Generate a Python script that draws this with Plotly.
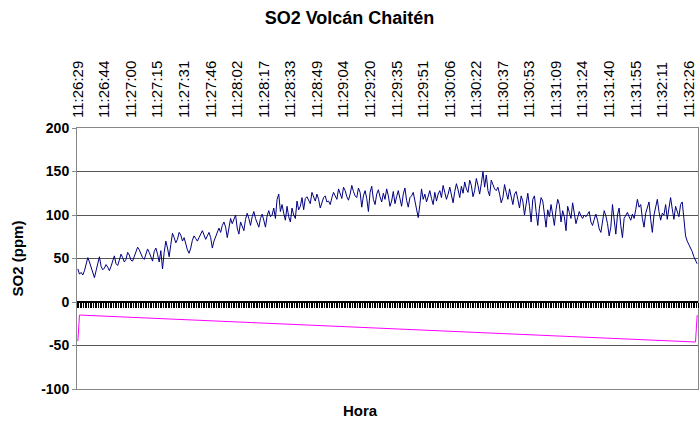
import plotly.graph_objects as go

# Tick labels (every 16th category)
time_labels = ["11:26:29", "11:26:44", "11:27:00", "11:27:15", "11:27:31", "11:27:46",
               "11:28:02", "11:28:17", "11:28:33", "11:28:49", "11:29:04", "11:29:20",
               "11:29:35", "11:29:51", "11:30:06", "11:30:22", "11:30:37", "11:30:53",
               "11:31:09", "11:31:24", "11:31:40", "11:31:55", "11:32:11", "11:32:26"]
label_step = 16

# SO2 readings (ppm), one per category
so2 = [
    38, 32, 34, 31, 36, 44, 51, 46, 40, 33, 28, 36, 45, 52, 41, 37,
    39, 43, 40, 36, 41, 47, 53, 44, 42, 48, 55, 51, 46, 49, 57, 54, 48,
    47, 52, 58, 63, 60, 55, 51, 49, 56, 61, 57, 53, 47, 58, 62, 55, 46,
    59, 38, 57, 70, 62, 52, 66, 79, 74, 68, 72, 80, 77, 70, 74, 66, 60,
    56, 62, 71, 76, 73, 70, 74, 79, 82, 77, 72, 76, 80, 74, 62, 70, 75,
    78, 85, 80, 88, 92, 86, 74, 84, 96, 90, 94, 100, 85, 78, 92, 88,
    82, 95, 102, 96, 88, 98, 104, 96, 92, 86, 96, 101, 94, 86, 99, 105, 98,
    100, 108, 96, 118, 124, 104, 112, 102, 94, 110, 98, 92, 108, 100, 96, 116, 106,
    110, 120, 106, 119, 121, 117, 113, 126, 120, 116, 124, 118, 108, 114, 120, 122, 115,
    116, 112, 120, 126, 122, 118, 130, 124, 119, 132, 128, 121, 117, 124, 134, 127, 122,
    120, 131, 126, 109, 122, 128, 119, 104, 126, 133, 118, 112, 124, 129, 121, 115,
    125, 118, 130, 122, 110, 116, 127, 113, 121, 128, 119, 110, 124, 131, 117, 109, 120,
    122, 126, 115, 104, 97, 112, 130, 118, 124, 115, 121, 128, 119, 112, 126, 116, 124,
    128, 120, 134, 126, 118, 124, 132, 123, 114, 127, 136, 129, 120, 133, 125, 138, 130,
    126, 140, 134, 121, 128, 142, 134, 124, 136, 150, 132, 146, 128, 122, 140, 135, 130,
    128, 132, 124, 114, 120, 135, 126, 118, 130, 121, 112, 124, 127, 118, 108, 122,
    116, 100, 112, 125, 110, 92, 118, 122, 104, 88, 108, 120, 116, 100, 86, 106, 98,
    112, 100, 88, 106, 118, 112, 92, 105, 98, 82, 110, 103, 96, 114, 100, 90, 97,
    104, 99, 96, 100, 98, 101, 104, 92, 88, 95, 101, 94, 84, 80, 96, 105, 99,
    90, 76, 86, 112, 94, 78, 100, 108, 88, 74, 96, 99, 103, 98, 94, 101, 96,
    106, 118, 109, 112, 96, 86, 102, 110, 115, 95, 80, 100, 108, 118, 104, 94, 102,
    100, 112, 95, 108, 120, 107, 95, 110, 104, 98, 112, 115, 96, 76, 70, 66, 64,
    58, 52, 47, 44,
]

# Second (magenta) series: category index and value
ref_idx = [0, 1, 372, 373]
ref_vals = [-45, -15, -46, -15]

y_ticks = [-100, -50, 0, 50, 100, 150, 200]
y_tick_text = ["-100", "-50", "0", "50", "100", "150", "200"]

n = len(so2)
xs = list(range(n))
tickvals = [i * label_step for i in range(len(time_labels))]

FONT = "Liberation Sans, Arial, sans-serif"

fig = go.Figure()
fig.add_trace(go.Scatter(x=xs, y=so2, mode="lines",
                         line=dict(color="#000080", width=1), showlegend=False,
                         hoverinfo="skip"))
fig.add_trace(go.Scatter(x=ref_idx, y=ref_vals, mode="lines",
                         line=dict(color="#FF00FF", width=1), showlegend=False,
                         hoverinfo="skip"))
# invisible trace to activate the zero-line category axis
fig.add_trace(go.Scatter(x=[xs[0]], y=[0], xaxis="x2", mode="markers",
                         marker=dict(opacity=0), showlegend=False, hoverinfo="skip"))

xr = [-0.5, n - 0.5]

fig.update_layout(
    width=699, height=421,
    margin=dict(l=77, r=1, t=128, b=32),
    paper_bgcolor="white", plot_bgcolor="white",
    font=dict(family=FONT, color="black"),
    title=dict(text="<b>SO2 Volcán Chaitén</b>", x=0.5, xref="container",
               y=1 - 18 / 421, yref="container", yanchor="middle", xanchor="center",
               font=dict(size=18, family=FONT, color="black")),
    xaxis=dict(range=xr, side="top", tickmode="array", tickvals=tickvals,
               ticktext=time_labels, tickangle=-90, ticks="outside", ticklen=6,
               tickcolor="rgba(0,0,0,0)",
               tickfont=dict(size=15, family=FONT), showgrid=False, zeroline=False,
               showline=True, linecolor="#888888", linewidth=1, mirror=True),
    xaxis2=dict(range=xr, overlaying="x", anchor="free", position=1 / 3,
                side="bottom", tickmode="linear", tick0=-0.5, dtick=1,
                ticks="outside", ticklen=5, tickwidth=1, tickcolor="black",
                showticklabels=False, showgrid=False, zeroline=False,
                showline=True, linecolor="black", linewidth=2),
    yaxis=dict(range=[-100, 200], tickmode="array", tickvals=y_ticks,
               ticktext=y_tick_text,
               ticks="outside", ticklen=4, tickcolor="#888888",
               tickfont=dict(size=14, family=FONT, weight="bold"),
               showgrid=True, gridcolor="#555555", gridwidth=1, zeroline=False,
               showline=True, linecolor="#888888", linewidth=1, mirror=True,
               title=dict(text="<b>SO2 (ppm)</b>", standoff=13,
                          font=dict(size=15, family=FONT))),
    annotations=[dict(text="<b>Hora</b>", xref="paper", yref="paper",
                      x=(360 - 77) / 621, y=(389 - 410) / 261,
                      xanchor="center", yanchor="middle", showarrow=False,
                      font=dict(size=15, family=FONT))],
)

fig.write_html("out.html", config={"displayModeBar": False},
               post_script="document.body.style.margin='0px';document.body.style.overflow='hidden';")
